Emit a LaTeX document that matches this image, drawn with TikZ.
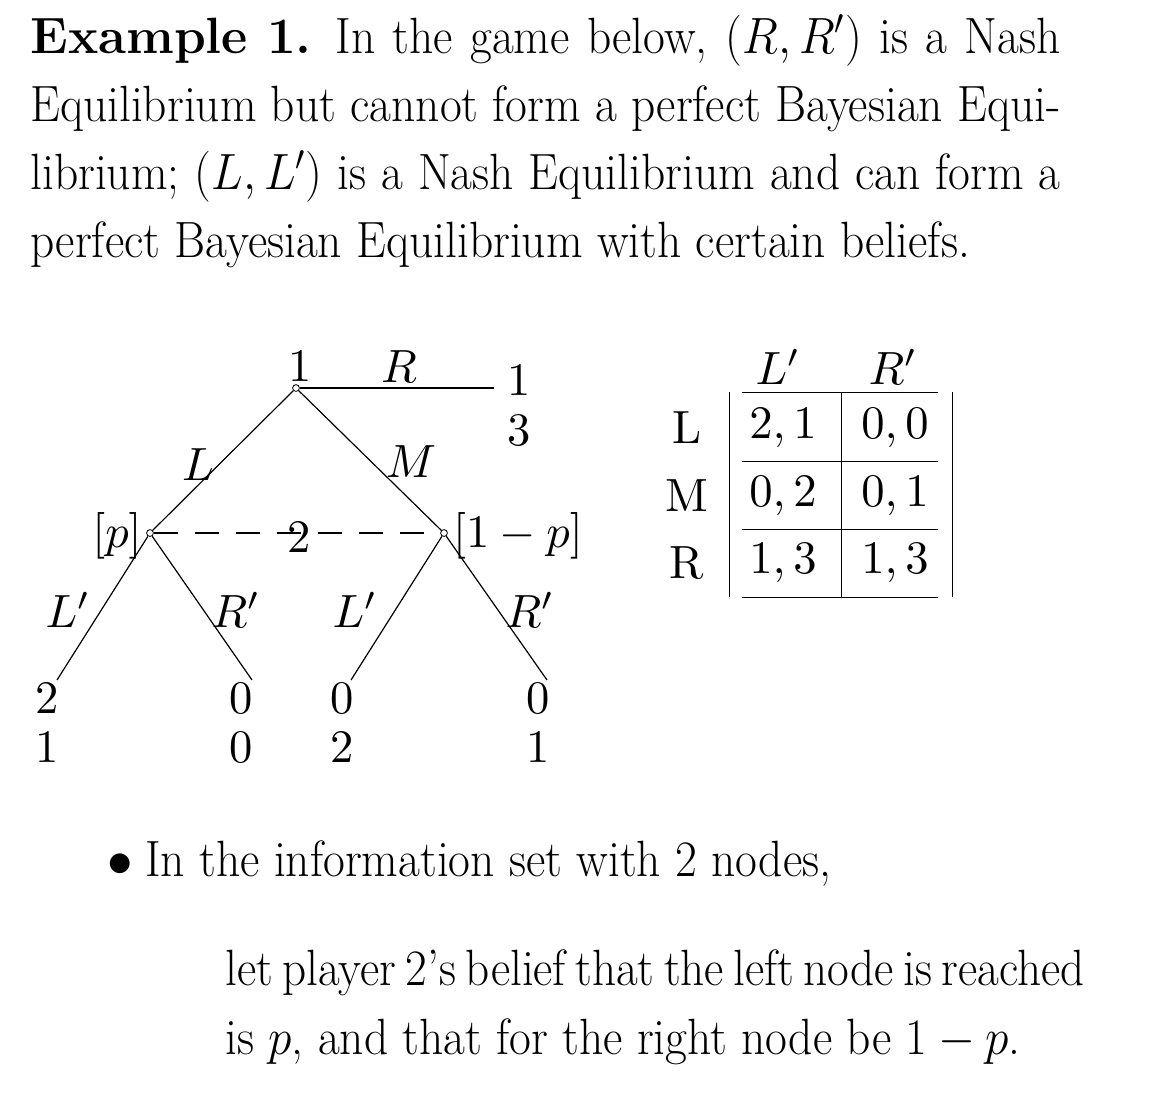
\RequirePackage{fix-cm}
\documentclass[tikz,border=0pt]{standalone}
\usepackage{graphicx}
\newcommand{\hs}[1]{\scalebox{0.93}[1]{#1}}
\newcommand{\tr}[1]{\scalebox{2.33}{\fontsize{10}{12}\selectfont #1}}
\begin{document}
\begin{tikzpicture}[x=0.5pt,y=-0.5pt,
  body/.style={inner sep=0pt, anchor=base west, font=\fontsize{25.5}{30}\selectfont},
  small/.style={inner sep=0pt},
  dec/.style={circle, draw, fill=white, inner sep=0pt, minimum size=3.4pt, line width=0.4pt},
  edge/.style={line width=0.6pt},
  infoset/.style={line width=0.6pt, dash pattern=on 12pt off 8.5pt},
  rule/.style={line width=0.5pt}]
\useasboundingbox (0,0) rectangle (1154,1116);

% heading paragraph
\node[body] (h1) at (30,53) {\hs{\makebox[553.8pt][s]{\scalebox{1.075}[1]{\textbf{Example 1.}}\hspace{0.5em}In the game below, $(R,R')$ is a Nash}}};
\node[body] (h2) at (30,121) {\hs{\makebox[553.8pt][s]{Equilibrium but cannot form a perfect Bayesian Equi-}}};
\node[body] (h3) at (30,189) {\hs{\makebox[553.8pt][s]{librium; $(L,L')$ is a Nash Equilibrium and can form a}}};
\node[body] (h4) at (30,257) {\hs{perfect Bayesian Equilibrium with certain beliefs.}};

% game tree
\node[dec] (root) at (296,388) {};
\node[dec] (n2l) at (150,533) {};
\node[dec] (n2r) at (444,533) {};
\coordinate (tR) at (494,388);
\coordinate (t1) at (57,680);
\coordinate (t2) at (252,680);
\coordinate (t3) at (351,680);
\coordinate (t4) at (547,680);
\draw[edge] (root) -- (tR);
\draw[edge] (root) -- (n2l);
\draw[edge] (root) -- (n2r);
\draw[edge] (n2l) -- (t1);
\draw[edge] (n2l) -- (t2);
\draw[edge] (n2r) -- (t3);
\draw[edge] (n2r) -- (t4);
\draw[infoset] (n2l) -- (n2r);

\node[small] (lab1) at (300,366) {\tr{1}};
\node[small] (labR) at (399,367) {\tr{$R$}};
\node[small] (labL) at (198,465) {\tr{$L$}};
\node[small] (labM) at (411,462) {\tr{$M$}};
\node[small] (lab2) at (299,537) {\tr{2}};
\node[small] (labp) at (117,536) {\tr{$[p]$}};
\node[small] (lab1p) at (518,536) {\tr{$[1-p]$}};
\node[small] (lLa) at (68,610) {\tr{$L'$}};
\node[small] (lRa) at (236,610) {\tr{$R'$}};
\node[small] (lLb) at (355,610) {\tr{$L'$}};
\node[small] (lRb) at (530,610) {\tr{$R'$}};

\node[small] (pRa) at (519,380) {\tr{1}};
\node[small] (pRb) at (519,430) {\tr{3}};
\node[small] (p1a) at (47,698) {\tr{2}};
\node[small] (p1b) at (47,747) {\tr{1}};
\node[small] (p2a) at (241,698) {\tr{0}};
\node[small] (p2b) at (241,747) {\tr{0}};
\node[small] (p3a) at (342,698) {\tr{0}};
\node[small] (p3b) at (342,747) {\tr{2}};
\node[small] (p4a) at (538,698) {\tr{0}};
\node[small] (p4b) at (538,747) {\tr{1}};

% payoff table
\foreach \yy in {392,461,529,597} \draw[rule] (742,\yy) -- (938,\yy);
\foreach \xx in {729,841,952} \draw[rule] (\xx,392) -- (\xx,597);
\node[small] (cL) at (778,367) {\tr{$L'$}};
\node[small] (cR) at (893,367) {\tr{$R'$}};
\node[small] (rL) at (687,428) {\tr{L}};
\node[small] (rM) at (687,496) {\tr{M}};
\node[small] (rR) at (687,563) {\tr{R}};
\node[small] (c11) at (783,428) {\tr{$2,1$}};
\node[small] (c12) at (895,428) {\tr{$0,0$}};
\node[small] (c21) at (783,496) {\tr{$0,2$}};
\node[small] (c22) at (895,496) {\tr{$0,1$}};
\node[small] (c31) at (783,563) {\tr{$1,3$}};
\node[small] (c32) at (895,563) {\tr{$1,3$}};

% bullet text
\node[body] (bul) at (107,876) {$\bullet$};
\node[body] (bt1) at (145,876) {\hs{In the information set with 2 nodes,}};
\node[body] (bt2) at (225,985) {\scalebox{0.925}[1]{\makebox[463.2pt][s]{let player 2’s belief that the left node is reached}}};
\node[body] (bt3) at (225,1054) {\hs{is $p$, and that for the right node be $1-p$.}};
\end{tikzpicture}
\end{document}
